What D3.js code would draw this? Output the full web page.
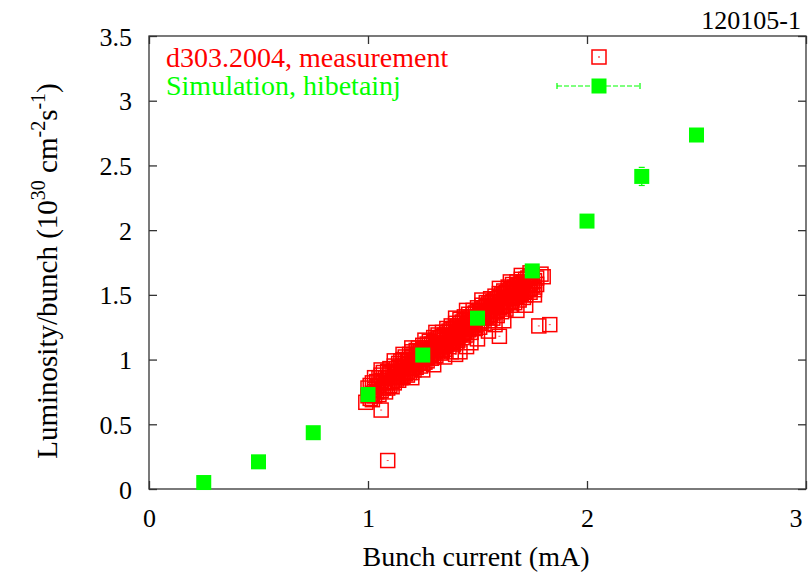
<!DOCTYPE html>
<html><head><meta charset="utf-8">
<script src="https://cdn.jsdelivr.net/npm/d3@7"></script>
<style>
body{margin:0;background:#fff}
svg{display:block}
svg text, svg tspan{font-family:"Liberation Serif", serif !important}
</style>
</head><body>
<svg id="c" width="810" height="573"></svg>
<script>
// ---- data ----
const xTicks = [0, 1, 2, 3];
const xTickLabels = ["0", "1", "2", "3"];
const yTicks = [0, 0.5, 1, 1.5, 2, 2.5, 3, 3.5];
const yTickLabels = ["0", "0.5", "1", "1.5", "2", "2.5", "3", "3.5"];

const simCurrent = [0.25, 0.5, 0.75, 1.0, 1.25, 1.5, 1.75, 2.0, 2.25, 2.5];
const simLumi    = [0.05, 0.21, 0.435, 0.73, 1.035, 1.32, 1.685, 2.07, 2.415, 2.735];
const simErr     = [0.01, 0.01, 0.01, 0.02, 0.02, 0.02, 0.03, 0.03, 0.07, 0.03];

const measPoints = [
[0.99,0.67],[1.06,0.61],[1.09,0.22],[1.60,1.18],[1.78,1.26],[1.83,1.27],[1.79,1.66],[1.80,1.64],
[1.00,0.72],[1.00,0.78],[1.01,0.70],[1.01,0.80],[1.02,0.74],[1.02,0.82],[1.02,0.69],
[1.03,0.77],[1.03,0.72],[1.04,0.83],[1.04,0.75],[1.04,0.79],[1.05,0.73],[1.05,0.86],[1.05,0.80],
[1.06,0.76],[1.06,0.84],[1.06,0.88],[1.07,0.78],[1.07,0.82],[1.07,0.90],[1.08,0.75],[1.08,0.86],[1.08,0.80],
[1.09,0.82],[1.09,0.91],[1.09,0.78],[1.10,0.86],[1.10,0.80],[1.10,0.93],[1.10,0.89],
[1.11,0.83],[1.11,0.90],[1.11,0.79],[1.12,0.87],[1.12,0.95],[1.12,0.82],[1.12,0.91],
[1.13,0.85],[1.13,0.93],[1.13,0.89],[1.14,0.90],[1.14,0.84],[1.14,0.97],[1.14,0.94],
[1.15,0.88],[1.15,0.92],[1.15,0.99],[1.15,0.86],[1.16,0.95],[1.16,0.90],[1.16,1.00],[1.16,0.87],
[1.17,0.93],[1.17,0.89],[1.17,0.97],[1.17,1.02],[1.18,0.96],[1.18,0.91],[1.18,1.00],[1.18,0.88],
[1.19,0.94],[1.19,0.99],[1.19,1.04],[1.19,0.90],[1.20,0.97],[1.20,0.93],[1.20,1.02],[1.20,1.06],[1.20,0.90],
[1.21,0.99],[1.21,0.95],[1.21,1.04],[1.21,0.92],[1.22,1.00],[1.22,0.96],[1.22,1.07],[1.22,0.94],[1.22,1.03],
[1.23,1.01],[1.23,0.97],[1.23,1.05],[1.23,1.09],[1.24,1.02],[1.24,0.98],[1.24,1.06],[1.24,0.95],
[1.25,1.00],[1.25,1.08],[1.25,1.11],[1.25,0.97],[1.26,1.04],[1.26,1.01],[1.26,1.09],[1.26,0.98],
[1.27,1.05],[1.27,1.12],[1.27,1.02],[1.27,0.99],[1.28,1.07],[1.28,1.03],[1.28,1.11],[1.28,1.14],
[1.29,1.08],[1.29,1.04],[1.29,1.12],[1.29,1.01],[1.30,1.09],[1.30,1.05],[1.30,1.13],[1.30,1.17],[1.30,1.02],
[1.31,1.10],[1.31,1.06],[1.31,1.15],[1.31,1.03],[1.32,1.11],[1.32,1.08],[1.32,1.16],[1.32,1.19],
[1.33,1.12],[1.33,1.09],[1.33,1.17],[1.33,1.05],[1.34,1.13],[1.34,1.10],[1.34,1.18],[1.34,1.21],[1.34,1.07],
[1.35,1.15],[1.35,1.11],[1.35,1.19],[1.35,1.08],[1.36,1.16],[1.36,1.12],[1.36,1.21],[1.36,1.24],
[1.37,1.17],[1.37,1.13],[1.37,1.22],[1.37,1.10],[1.38,1.18],[1.38,1.14],[1.38,1.23],[1.38,1.26],
[1.39,1.19],[1.39,1.15],[1.39,1.24],[1.39,1.12],[1.40,1.20],[1.40,1.16],[1.40,1.25],[1.40,1.28],[1.40,1.13],
[1.41,1.22],[1.41,1.18],[1.41,1.26],[1.41,1.15],[1.42,1.23],[1.42,1.19],[1.42,1.28],[1.42,1.31],
[1.43,1.24],[1.43,1.20],[1.43,1.29],[1.43,1.17],[1.44,1.25],[1.44,1.21],[1.44,1.30],[1.44,1.33],
[1.45,1.26],[1.45,1.22],[1.45,1.31],[1.45,1.19],[1.46,1.27],[1.46,1.23],[1.46,1.32],[1.46,1.35],
[1.47,1.29],[1.47,1.25],[1.47,1.33],[1.47,1.21],[1.48,1.30],[1.48,1.26],[1.48,1.35],[1.48,1.38],
[1.49,1.31],[1.49,1.27],[1.49,1.36],[1.49,1.24],[1.50,1.32],[1.50,1.28],[1.50,1.37],[1.50,1.40],
[1.51,1.33],[1.51,1.29],[1.51,1.38],[1.51,1.25],[1.52,1.34],[1.52,1.30],[1.52,1.39],[1.52,1.42],
[1.53,1.36],[1.53,1.32],[1.53,1.40],[1.53,1.28],[1.54,1.37],[1.54,1.33],[1.54,1.41],[1.54,1.44],
[1.55,1.38],[1.55,1.34],[1.55,1.43],[1.55,1.30],[1.56,1.39],[1.56,1.35],[1.56,1.44],[1.56,1.47],
[1.57,1.40],[1.57,1.36],[1.57,1.45],[1.57,1.32],[1.58,1.41],[1.58,1.37],[1.58,1.46],[1.58,1.49],
[1.59,1.42],[1.59,1.38],[1.59,1.47],[1.59,1.34],[1.60,1.44],[1.60,1.40],[1.60,1.48],[1.60,1.51],
[1.61,1.45],[1.61,1.41],[1.61,1.50],[1.61,1.37],[1.62,1.46],[1.62,1.42],[1.62,1.51],[1.62,1.53],
[1.63,1.47],[1.63,1.43],[1.63,1.52],[1.63,1.39],[1.64,1.48],[1.64,1.44],[1.64,1.53],[1.64,1.56],
[1.65,1.49],[1.65,1.45],[1.65,1.54],[1.65,1.42],[1.66,1.51],[1.66,1.47],[1.66,1.55],[1.66,1.58],
[1.67,1.52],[1.67,1.48],[1.67,1.56],[1.67,1.44],[1.68,1.53],[1.68,1.49],[1.68,1.57],[1.68,1.60],
[1.69,1.54],[1.69,1.50],[1.69,1.58],[1.69,1.46],[1.70,1.55],[1.70,1.51],[1.70,1.59],[1.70,1.62],
[1.71,1.56],[1.71,1.52],[1.71,1.60],[1.71,1.48],[1.72,1.57],[1.72,1.53],[1.72,1.62],[1.72,1.50],
[1.73,1.58],[1.73,1.54],[1.73,1.63],[1.74,1.59],[1.74,1.55],[1.74,1.64],[1.74,1.52],
[1.75,1.60],[1.75,1.57],[1.75,1.65],[1.76,1.61],[1.76,1.56],[1.76,1.54],[1.77,1.58],[1.77,1.63],
[1.20,0.86],[1.25,0.92],[1.30,0.96],[1.38,1.06],[1.40,1.04],[1.42,1.06],[1.45,1.10],[1.50,1.16],
[1.55,1.22],[1.62,1.30],[1.68,1.38],[1.72,1.42],[1.76,1.50],[1.35,1.02],[1.47,1.13],[1.58,1.27],
[1.06,0.92],[1.12,0.99],[1.20,1.09],[1.31,1.21],[1.40,1.32],[1.52,1.46],[1.60,1.55],[1.70,1.65],[1.74,1.67],
[1.03,0.86],[1.16,1.04],[1.26,1.15],[1.45,1.38],[1.65,1.60]
];

const titleText = "120105-1";
const xLabel = "Bunch current (mA)";
const legendMeas = "d303.2004, measurement";
const legendSim = "Simulation, hibetainj";

// ---- drawing ----
const RED = "#ff0000", GREEN = "#00ff00";
const svg = d3.select("#c");
const L = 149, R = 806, T = 36, B = 489;
const x = d3.scaleLinear().domain([0, 3]).range([L, R]);
const y = d3.scaleLinear().domain([0, 3.5]).range([B, T]);

svg.append("rect").attr("width", 810).attr("height", 573).attr("fill", "#fff");

// axes
const fs = 26;
const gx = svg.append("g").attr("transform", `translate(0,${B})`)
  .call(d3.axisBottom(x).tickValues(xTicks).tickFormat((d, i) => xTickLabels[i])
    .tickSizeInner(-8).tickSizeOuter(0).tickPadding(20));
const gy = svg.append("g").attr("transform", `translate(${L},0)`)
  .call(d3.axisLeft(y).tickValues(yTicks).tickFormat((d, i) => yTickLabels[i])
    .tickSizeInner(-8).tickSizeOuter(0).tickPadding(17));
const gt = svg.append("g").attr("transform", `translate(0,${T})`)
  .call(d3.axisTop(x).tickValues(xTicks).tickFormat("").tickSizeInner(-8).tickSizeOuter(0));
const gr = svg.append("g").attr("transform", `translate(${R},0)`)
  .call(d3.axisRight(y).tickValues(yTicks).tickFormat("").tickSizeInner(-8).tickSizeOuter(0));
[gx, gy, gt, gr].forEach(g => {
  g.attr("font-family", null).attr("font-size", null);
  g.select(".domain").remove();
  g.selectAll("line").attr("stroke", "#333").attr("stroke-width", 1.3);
  g.selectAll("text").style("font-size", fs + "px").attr("fill", "#000");
});
gy.selectAll("text").attr("dy", "0.35em");
// last x tick label sits at the window edge in the reference; keep it inside
gx.selectAll("text").filter(d => d === 3).style("text-anchor", "end").attr("dx", "-0.15em");

svg.append("rect").attr("x", L).attr("y", T).attr("width", R - L).attr("height", B - T)
  .attr("fill", "none").attr("stroke", "#333").attr("stroke-width", 1.3);

// measurement: open red squares
const sq = 7;
const mg = svg.append("g");
measPoints.forEach(p => {
  const cx = x(p[0]), cy = y(p[1]);
  mg.append("rect").attr("x", cx - sq).attr("y", cy - sq).attr("width", 2 * sq).attr("height", 2 * sq)
    .attr("fill", "none").attr("stroke", RED).attr("stroke-width", 1.5);
  mg.append("rect").attr("x", cx - 1).attr("y", cy - 0.5).attr("width", 2).attr("height", 1)
    .attr("fill", RED).attr("opacity", 0.7);
});

// simulation: error bars + filled green squares
const sg = svg.append("g");
simCurrent.forEach((c, i) => {
  const cx = x(c), y1 = y(simLumi[i] - simErr[i]), y2 = y(simLumi[i] + simErr[i]);
  sg.append("line").attr("x1", cx).attr("x2", cx).attr("y1", y1).attr("y2", y2)
    .attr("stroke", GREEN).attr("stroke-width", 1.2).attr("stroke-dasharray", "4,2");
  [y1, y2].forEach(yy => sg.append("line").attr("x1", cx - 3).attr("x2", cx + 3).attr("y1", yy).attr("y2", yy)
    .attr("stroke", GREEN).attr("stroke-width", 1.2));
});
simCurrent.forEach((c, i) => {
  sg.append("rect").attr("x", x(c) - 7.5).attr("y", y(simLumi[i]) - 7.5).attr("width", 15).attr("height", 15)
    .attr("fill", GREEN);
});

// legend
const lg = svg.append("g");
lg.append("text").attr("x", 166).attr("y", 67).style("font-size", "28px").attr("fill", RED).text(legendMeas);
lg.append("text").attr("x", 166).attr("y", 95).style("font-size", "28px").attr("fill", GREEN).text(legendSim);
lg.append("rect").attr("x", 599 - sq).attr("y", 57 - sq).attr("width", 2 * sq).attr("height", 2 * sq)
  .attr("fill", "none").attr("stroke", RED).attr("stroke-width", 1.5);
lg.append("rect").attr("x", 598).attr("y", 56.5).attr("width", 2).attr("height", 1).attr("fill", RED);
lg.append("line").attr("x1", 557).attr("x2", 640).attr("y1", 86).attr("y2", 86)
  .attr("stroke", GREEN).attr("stroke-width", 1.2).attr("stroke-dasharray", "5,2");
[557, 640].forEach(xx => lg.append("line").attr("x1", xx).attr("x2", xx).attr("y1", 83).attr("y2", 89)
  .attr("stroke", GREEN).attr("stroke-width", 1.2));
lg.append("rect").attr("x", 599 - 7.5).attr("y", 86 - 7.5).attr("width", 15).attr("height", 15).attr("fill", GREEN);

// title
svg.append("text").attr("x", 801).attr("y", 29).style("text-anchor", "end").style("font-size", "26px")
  .attr("fill", "#000").text(titleText);

// x label
svg.append("text").attr("x", 476).attr("y", 566).style("text-anchor", "middle").style("font-size", "28px")
  .attr("fill", "#000").text(xLabel);

// y label
const yl = svg.append("text").attr("transform", "translate(57,271) rotate(-90)")
  .style("text-anchor", "middle").style("font-size", "29px").attr("fill", "#000");
yl.append("tspan").text("Luminosity/bunch (10");
yl.append("tspan").style("font-size", "20px").attr("dy", -12).text("30");
yl.append("tspan").attr("dy", 12).text(" cm");
yl.append("tspan").style("font-size", "20px").attr("dy", -12).text("-2");
yl.append("tspan").attr("dy", 12).text("s");
yl.append("tspan").style("font-size", "20px").attr("dy", -12).text("-1");
yl.append("tspan").attr("dy", 12).text(")");
</script>
</body></html>
